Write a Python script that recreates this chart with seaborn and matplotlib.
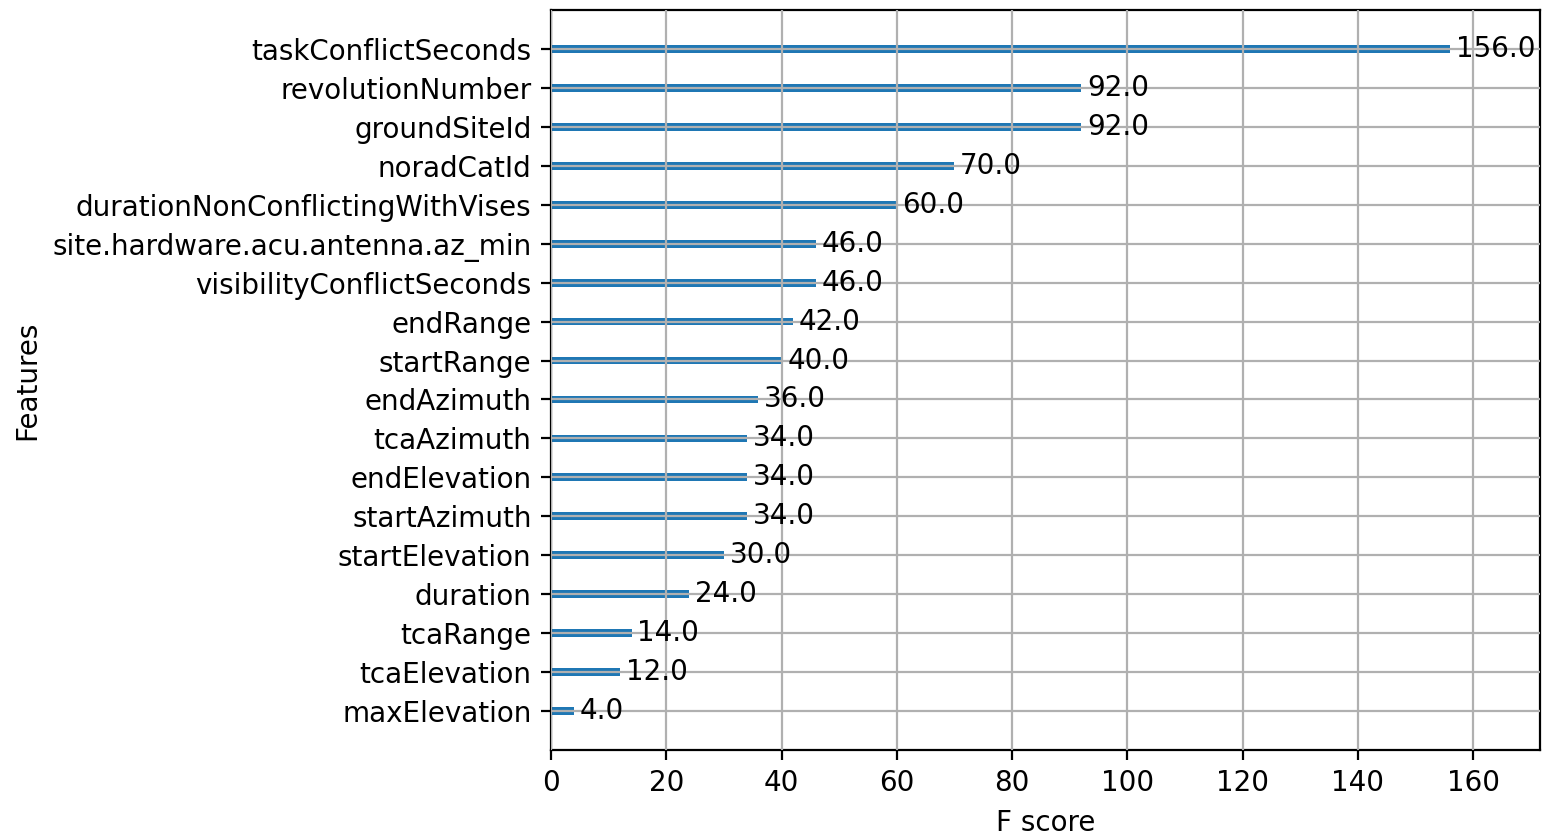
import matplotlib
matplotlib.use("Agg")
import matplotlib.pyplot as plt
from matplotlib.ticker import MultipleLocator
import seaborn as sns
import pandas as pd

features = [
    "taskConflictSeconds", "revolutionNumber", "groundSiteId", "noradCatId",
    "durationNonConflictingWithVises", "site.hardware.acu.antenna.az_min",
    "visibilityConflictSeconds", "endRange", "startRange", "endAzimuth",
    "tcaAzimuth", "endElevation", "startAzimuth", "startElevation",
    "duration", "tcaRange", "tcaElevation", "maxElevation",
]
f_scores = [156, 92, 92, 70, 60, 46, 46, 42, 40, 36, 34, 34, 34, 30, 24, 14, 12, 4]

df = pd.DataFrame({"feature": features, "score": f_scores})

DPI = 200
W, H = 1544, 833
plt.rcParams["font.family"] = ["DejaVu Sans"]

fig = plt.figure(figsize=(W / DPI, H / DPI), dpi=DPI)
ax = fig.add_axes([551 / W, 1 - 750 / H, (1540 - 551) / W, 740 / H])

sns.barplot(data=df, x="score", y="feature", orient="h", width=0.2,
            color="#1f77b4", saturation=1, ax=ax, zorder=1)

for i, v in enumerate(f_scores):
    ax.text(v + 1, i, f"{float(v)}", va="center", fontsize=10)

ax.set_xlim(0, max(f_scores) * 1.1)
ax.set_ylim(len(features), -1)
ax.xaxis.set_major_locator(MultipleLocator(20))
ax.grid(True)
ax.set_axisbelow(False)
ax.set_title("Feature importance", fontsize=12)
ax.set_xlabel("F score", fontsize=10)
ax.set_ylabel("Features", fontsize=10)
ax.tick_params(labelsize=10)

fig.savefig("out.png", dpi=DPI)
